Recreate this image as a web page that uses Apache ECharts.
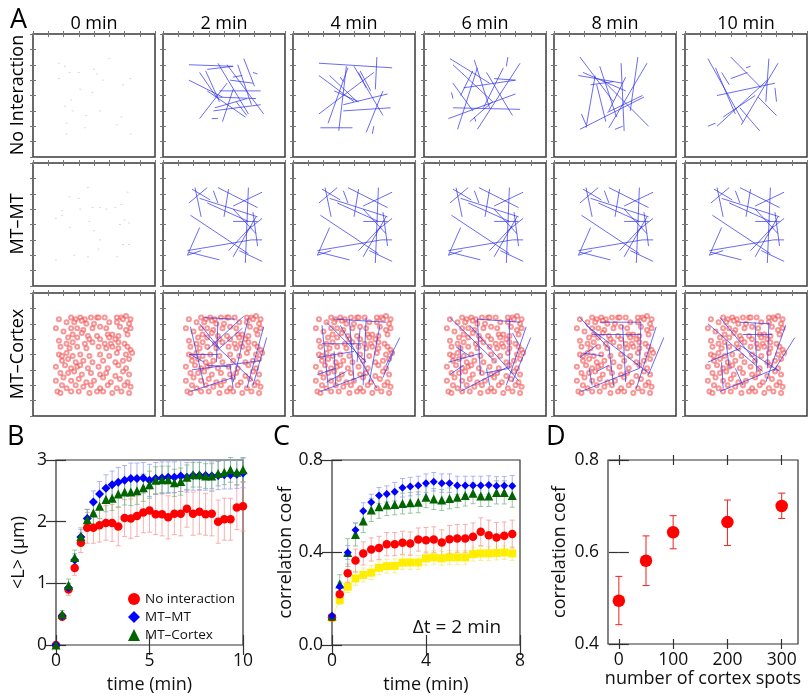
<!DOCTYPE html>
<html>
<head>
<meta charset="utf-8">
<script src="https://cdn.jsdelivr.net/npm/echarts@6/dist/echarts.min.js"></script>
<style>
  html, body { margin: 0; padding: 0; background: #fff; }
  #chart { width: 808px; height: 696px; }
</style>
</head>
<body>
<div id="chart"></div>
<script>
// ---- panel A: snapshots (units of the simulation box, 0..8, y downward) ----
const timeLabels = ['0 min', '2 min', '4 min', '6 min', '8 min', '10 min'];
const rowLabels = ['No Interaction', 'MT\u2013MT', 'MT\u2013Cortex'];

const seedsNone = [[1.7,1.9],[2.1,2.1],[5.0,1.6],[2.4,2.5],[3.0,2.5],[4.0,2.3],[4.2,2.6],[1.7,2.9],[3.1,3.6],[4.6,3.0],[5.9,3.3],[6.4,2.9],[3.9,3.8],[2.1,4.7],[2.6,5.0],[3.5,5.3],[4.4,5.0],[5.8,5.4],[5.5,5.9],[2.2,5.8],[3.4,6.1],[2.2,6.5],[6.4,6.5],[2.5,4.3]];
const seedsMT = [[3.6,1.6],[2.4,2.2],[3.0,2.3],[6.2,1.9],[1.9,3.1],[3.1,3.0],[3.9,2.9],[4.4,2.9],[4.8,3.0],[5.4,2.9],[5.8,2.7],[1.5,3.6],[1.9,3.4],[2.4,4.2],[3.7,3.8],[4.0,4.4],[5.7,4.0],[6.0,3.7],[6.3,3.9],[4.4,5.0],[5.9,5.3],[6.3,5.3],[4.3,5.6],[1.5,6.3],[2.7,6.0],[3.6,6.1],[5.5,6.1]];
const seedsCx = [[3.4,4.1],[4.2,4.1],[5.9,3.7],[6.2,5.8]];

const segNone2 = [[1.7,2.0,4.6,2.1],[5.3,1.6,6.0,3.4],[1.7,3.0,3.9,4.1],[2.4,2.5,3.5,4.1],[2.8,2.4,3.7,4.4],[2.4,5.5,4.2,3.2],[2.9,2.3,4.6,2.1],[3.3,5.0,6.4,4.6],[3.4,4.8,5.5,4.2],[4.2,2.0,6.6,5.2],[3.7,3.7,6.4,3.7],[3.5,4.1,6.1,4.2],[4.4,3.0,5.9,3.2],[3.6,1.9,5.6,5.2],[2.9,3.7,5.4,5.4],[3.9,5.7,4.6,3.6],[3.2,5.5,3.6,5.5],[5.9,2.5,6.2,2.6],[4.8,4.4,5.5,5.3],[4.6,2.8,5.2,2.7],[4.9,2.0,5.8,4.6]];
const segNone4 = [[1.7,1.9,6.5,2.2],[5.5,1.5,5.4,3.6],[1.7,2.7,4.0,4.4],[3.5,2.1,3.0,6.3],[2.3,5.8,3.6,2.2],[1.7,5.2,5.3,2.5],[3.3,4.6,6.2,3.9],[3.3,5.0,6.4,4.8],[1.8,6.1,3.9,6.1],[4.0,2.1,5.9,5.3],[4.3,2.5,4.8,3.5],[4.8,6.4,5.9,3.7],[2.4,2.7,4.2,4.4],[2.7,3.7,4.3,4.4],[5.2,6.5,5.3,6.0],[3.1,2.8,3.3,3.1],[4.4,2.4,5.1,3.7]];
const segNone6 = [[1.7,1.6,4.3,3.2],[1.9,2.0,4.5,4.4],[3.3,1.7,4.3,4.8],[6.3,1.9,3.5,6.2],[1.6,5.5,6.0,3.9],[1.9,4.8,6.3,4.9],[2.2,6.2,3.5,2.2],[2.6,3.5,6.0,3.0],[5.5,1.5,5.4,2.1],[2.4,4.0,3.2,2.4],[4.1,2.5,5.8,5.3],[3.0,5.7,4.5,4.4],[3.9,4.8,5.2,2.2],[4.6,2.9,6.0,3.0],[1.8,3.8,1.9,4.2],[3.3,5.4,3.4,5.7],[1.9,3.2,3.2,5.0]];
const segNone8 = [[1.7,1.5,3.9,4.4],[1.6,2.7,4.5,3.2],[3.0,2.1,4.1,5.4],[4.4,1.9,4.6,6.3],[5.5,1.5,5.0,5.0],[6.1,1.9,3.6,6.1],[1.7,6.2,5.9,4.1],[2.7,2.7,2.1,6.1],[3.2,3.0,6.2,6.0],[4.0,6.2,4.5,6.0],[1.9,2.5,4.7,3.7],[1.8,5.2,2.1,5.9],[2.8,3.3,3.4,5.7],[4.7,2.8,3.6,5.0],[3.5,5.1,5.8,4.0],[2.4,3.3,3.9,3.1]];
const segNone10 = [[1.5,1.6,3.8,5.7],[3.0,1.5,5.0,3.5],[5.5,1.6,5.3,4.4],[6.1,1.9,3.7,5.9],[2.1,6.0,5.4,3.0],[1.5,6.0,2.0,5.8],[2.0,2.2,3.3,5.2],[3.0,2.9,4.1,2.5],[2.1,4.0,5.9,3.2],[4.8,4.1,6.0,5.3],[2.5,5.4,4.6,4.0],[3.6,4.8,4.9,6.3],[6.0,4.4,5.9,3.5],[2.4,2.5,2.9,3.3],[4.0,2.2,4.3,2.1]];
const segMT = [[1.9,1.7,3.1,2.4],[2.4,2.3,6.2,3.5],[3.6,1.6,6.2,2.9],[2.1,1.6,2.5,3.5],[4.3,1.7,4.0,3.5],[5.6,1.6,5.4,6.5],[6.5,1.9,4.6,2.8],[1.8,3.4,5.6,5.9],[2.4,4.2,1.6,6.0],[1.6,5.7,5.8,5.0],[1.7,5.8,3.7,6.3],[4.6,6.1,6.1,3.5],[5.0,5.7,6.5,6.4],[5.5,4.4,6.5,3.6],[5.8,5.0,6.5,5.0],[4.6,3.8,6.2,3.8],[2.9,1.6,1.7,2.6],[4.3,5.7,5.8,4.1],[1.6,6.0,2.5,5.7],[4.6,3.0,6.1,4.6],[2.9,2.6,5.6,3.8],[3.3,1.8,3.6,2.6],[5.9,3.2,6.2,5.4]];
const segCx2 = [[1.8,2.2,2.7,6.0],[2.4,2.0,3.7,3.6],[2.7,1.6,4.7,1.7],[5.3,1.5,2.9,3.7],[5.6,1.6,4.6,5.8],[6.6,2.2,5.5,6.2],[6.8,2.9,5.9,6.0],[1.7,4.0,3.6,4.0],[1.9,5.0,6.4,4.4],[3.6,1.9,3.5,4.5],[1.8,6.4,4.6,5.5],[2.7,2.7,5.9,5.7],[3.7,3.6,5.2,2.3],[4.4,4.7,4.6,6.2],[2.9,4.7,4.4,4.8],[1.8,4.0,2.7,4.5]];
const segCx4 = [[1.9,2.1,2.3,6.0],[2.7,1.7,6.1,1.9],[2.2,1.9,4.8,4.5],[3.7,1.7,4.0,5.8],[4.8,1.6,4.6,6.0],[5.7,2.1,5.0,5.8],[7.0,2.9,6.1,4.7],[1.6,4.2,4.0,3.8],[1.9,3.3,4.5,3.3],[1.8,6.4,4.8,5.3],[3.1,2.1,5.5,6.2],[4.4,2.3,4.2,4.5],[2.2,5.8,3.5,5.1],[5.9,5.5,6.6,3.8],[1.6,5.3,2.8,4.9],[2.7,3.8,2.8,6.0]];
const segCx6 = [[1.7,1.6,4.7,4.5],[3.5,1.7,6.3,1.9],[3.5,1.7,3.7,5.3],[5.6,1.7,5.6,4.9],[6.7,2.2,5.4,6.0],[7.0,2.9,5.8,5.8],[1.6,4.5,3.8,3.9],[2.1,3.5,3.0,4.1],[1.7,5.3,2.6,4.7],[2.4,3.4,2.4,6.2],[2.4,6.4,5.5,4.8],[3.0,2.1,6.2,5.7],[4.1,4.9,4.3,6.0],[5.8,2.6,6.2,3.3],[4.0,5.2,5.6,4.9]];
const segCx8 = [[1.7,1.6,3.6,3.6],[3.0,1.9,5.7,1.9],[2.5,2.7,5.7,2.7],[5.7,1.9,5.6,4.9],[4.5,2.1,4.7,5.8],[6.7,2.2,5.4,6.2],[7.2,2.9,6.2,5.3],[1.7,4.2,2.8,3.4],[1.9,3.9,3.2,4.1],[2.3,4.9,2.5,6.0],[1.8,6.4,5.6,4.9],[2.1,2.1,6.2,5.2],[3.6,3.5,3.9,6.0],[2.8,5.1,3.6,4.7]];
const segCx10 = [[1.5,2.0,5.1,5.1],[2.3,1.6,4.7,4.5],[3.6,1.9,5.5,2.0],[3.8,2.7,5.7,2.7],[5.5,1.9,5.4,4.9],[4.6,1.9,4.7,5.1],[6.6,2.1,5.3,5.8],[7.2,2.9,5.8,5.1],[1.5,4.5,3.6,3.6],[2.4,4.5,2.5,6.2],[2.3,6.4,6.0,4.9],[3.6,3.4,6.2,5.1],[3.3,4.9,3.8,6.0],[2.7,3.2,2.9,4.9]];

const cortexSpots = [
  [1.7,1.7],[2.5,1.6],[2.8,1.7],[3.1,1.6],[3.4,1.7],[3.8,1.6],[4.2,1.6],[4.3,1.6],[4.7,1.6],[5.5,1.6],[5.8,1.6],[6.1,1.5],[6.4,1.7],[5.9,1.7],
  [2.2,1.9],[2.7,1.9],[3.2,1.8],[3.5,2.0],[4.0,2.0],[5.0,1.9],[5.5,1.9],[6.3,2.0],
  [1.5,2.3],[2.5,2.3],[2.9,2.3],[3.3,2.4],[3.9,2.3],[4.4,2.2],[4.8,2.3],[5.7,2.2],[6.1,2.4],[6.4,2.3],
  [2.0,2.5],[2.6,2.7],[3.2,2.6],[3.6,2.8],[4.2,2.8],[4.9,2.7],[5.2,2.7],[5.6,2.8],[6.2,2.7],[2.3,2.9],[2.9,2.9],[3.7,3.0],[4.4,3.0],[5.0,2.9],[5.4,3.0],
  [1.7,3.1],[2.2,3.3],[2.6,3.2],[3.4,3.3],[3.9,3.2],[4.7,3.3],[5.1,3.3],[5.6,3.2],[6.0,3.3],
  [1.8,3.5],[2.4,3.6],[2.9,3.5],[3.5,3.6],[4.3,3.5],[4.8,3.6],[5.2,3.5],[5.6,3.6],[6.2,3.5],[6.4,3.7],
  [1.7,4.0],[1.9,4.1],[2.2,3.9],[2.6,4.1],[3.1,4.0],[3.7,4.1],[4.4,4.0],[5.0,4.1],[5.5,3.9],[6.1,4.0],[6.5,3.9],
  [1.9,4.4],[2.3,4.3],[2.8,4.5],[3.3,4.4],[3.9,4.5],[4.6,4.4],[5.4,4.5],[5.9,4.4],[6.3,4.3],
  [1.5,4.8],[2.1,4.7],[2.5,4.9],[2.9,4.8],[3.1,4.7],[3.6,4.9],[4.3,4.8],[4.9,4.9],[5.6,4.7],[6.1,4.9],
  [1.8,5.2],[2.3,5.2],[2.7,5.1],[3.2,5.3],[3.8,5.2],[4.4,5.3],[4.8,5.2],[5.4,5.4],[5.9,5.1],[6.3,5.3],
  [1.5,5.7],[2.0,5.5],[2.5,5.7],[3.0,5.6],[3.5,5.8],[4.0,5.7],[4.6,5.5],[5.1,5.8],[5.7,5.6],[6.2,5.8],
  [1.9,6.0],[2.2,6.2],[2.8,6.0],[3.3,6.1],[3.8,6.0],[4.4,6.2],[4.9,6.0],[5.5,6.2],[6.0,6.0],[6.4,6.1],
  [1.6,6.4],[1.8,6.5],[2.5,6.4],[3.0,6.4],[3.7,6.5],[4.2,6.4],[4.6,6.4],[5.2,6.5],[5.8,6.4],[6.3,6.5]
];

// ---- panel B: mean length vs time ----
const timesB = [0,0.33,0.67,1,1.33,1.67,2,2.33,2.67,3,3.33,3.67,4,4.33,4.67,5,5.33,5.67,6,6.33,6.67,7,7.33,7.67,8,8.33,8.67,9,9.33,9.67,10];
const lenNone = [0,0.46,0.90,1.25,1.66,1.90,1.90,1.94,1.98,1.98,1.92,2.06,2.05,2.09,2.15,2.18,2.12,2.12,2.07,2.13,2.13,2.21,2.13,2.16,2.12,2.13,2.00,2.04,2.04,2.23,2.25];
const errNone = [0,0.05,0.10,0.12,0.16,0.25,0.25,0.27,0.28,0.30,0.31,0.30,0.32,0.33,0.33,0.35,0.33,0.35,0.35,0.34,0.36,0.30,0.35,0.36,0.34,0.36,0.35,0.34,0.34,0.36,0.40];
const lenMT = [0,0.47,0.93,1.38,1.75,2.05,2.32,2.45,2.54,2.60,2.64,2.67,2.70,2.70,2.71,2.67,2.70,2.71,2.72,2.72,2.74,2.72,2.75,2.75,2.75,2.74,2.75,2.76,2.76,2.77,2.79];
const errMT = [0,0.05,0.07,0.10,0.12,0.15,0.18,0.20,0.22,0.22,0.24,0.24,0.25,0.25,0.25,0.26,0.26,0.26,0.25,0.25,0.25,0.24,0.24,0.24,0.24,0.23,0.23,0.23,0.23,0.23,0.24];
const lenCx = [0,0.50,0.97,1.42,1.76,2.03,2.14,2.25,2.36,2.38,2.45,2.48,2.48,2.50,2.55,2.60,2.67,2.68,2.68,2.63,2.65,2.72,2.76,2.76,2.74,2.74,2.78,2.80,2.84,2.80,2.84];
const errCx = [0,0.06,0.10,0.12,0.14,0.17,0.18,0.20,0.20,0.20,0.21,0.21,0.22,0.22,0.22,0.22,0.22,0.22,0.22,0.22,0.22,0.20,0.20,0.20,0.20,0.20,0.20,0.20,0.20,0.20,0.20];

// ---- panel C: correlation coefficient vs time ----
const timesC = [0,0.33,0.67,1,1.33,1.67,2,2.33,2.67,3,3.33,3.67,4,4.33,4.67,5,5.33,5.67,6,6.33,6.67,7,7.33,7.67];
const corMT = [0.127,0.252,0.40,0.497,0.58,0.617,0.646,0.653,0.663,0.68,0.685,0.69,0.70,0.706,0.70,0.70,0.69,0.69,0.69,0.69,0.692,0.688,0.689,0.688];
const errCorMT = [0.01,0.02,0.03,0.03,0.035,0.035,0.035,0.035,0.04,0.04,0.04,0.04,0.04,0.04,0.04,0.04,0.04,0.04,0.04,0.04,0.04,0.04,0.04,0.045];
const corCx = [0.125,0.264,0.40,0.478,0.536,0.584,0.598,0.605,0.608,0.612,0.615,0.617,0.639,0.631,0.627,0.634,0.639,0.646,0.656,0.644,0.644,0.66,0.66,0.646];
const errCorCx = [0.01,0.04,0.06,0.05,0.05,0.05,0.05,0.045,0.045,0.045,0.045,0.045,0.045,0.045,0.045,0.045,0.045,0.045,0.045,0.045,0.045,0.05,0.05,0.05];
const corNone = [0.12,0.219,0.31,0.365,0.396,0.413,0.42,0.436,0.436,0.442,0.439,0.456,0.453,0.456,0.443,0.457,0.461,0.461,0.468,0.49,0.475,0.465,0.472,0.48];
const errCorNone = [0.01,0.03,0.04,0.05,0.05,0.05,0.05,0.05,0.05,0.05,0.05,0.05,0.055,0.055,0.055,0.06,0.06,0.06,0.06,0.06,0.065,0.065,0.06,0.06];
const corShuf = [0.118,0.195,0.252,0.288,0.303,0.313,0.334,0.341,0.342,0.356,0.357,0.357,0.375,0.379,0.375,0.379,0.379,0.379,0.393,0.396,0.396,0.398,0.40,0.396];
const errCorShuf = [0.01,0.02,0.025,0.03,0.03,0.03,0.03,0.03,0.03,0.03,0.03,0.03,0.03,0.03,0.03,0.03,0.03,0.03,0.03,0.03,0.03,0.03,0.03,0.03];

// ---- panel D: correlation vs number of cortex spots ----
const spotCounts = [0, 50, 100, 200, 300];
const corSpots = [0.494, 0.581, 0.643, 0.665, 0.700];
const corSpotsLow = [0.442, 0.527, 0.607, 0.614, 0.673];
const corSpotsHigh = [0.547, 0.635, 0.679, 0.713, 0.728];

const FONT = "'Open Sans', 'DejaVu Sans', sans-serif";
const INK = '#333';

const grids = [], xAxes = [], yAxes = [], series = [], graphics = [];

function addPanel(left, top) {
  const g = grids.length;
  grids.push({ left, top, width: 122, height: 123, show: true, borderColor: '#3a3a3a', borderWidth: 1.5, backgroundColor: 'transparent' });
  const base = {
    gridIndex: g, type: 'value', min: 0, max: 8, interval: 1,
    axisLine: { show: false }, splitLine: { show: false }, axisLabel: { show: false },
    axisTick: { show: true, inside: true, length: 3, lineStyle: { color: '#777', width: 1 } }
  };
  const xi = xAxes.length, yi = yAxes.length;
  xAxes.push({ ...base, position: 'bottom' }, { ...base, position: 'top' });
  yAxes.push({ ...base, position: 'left', inverse: true }, { ...base, position: 'right', inverse: true });
  return { xi, yi };
}

function segSeries(ax, segs) {
  return {
    type: 'custom', coordinateSystem: 'cartesian2d', xAxisIndex: ax.xi, yAxisIndex: ax.yi, silent: true, z: 3,
    data: segs, encode: { x: [0, 2], y: [1, 3] },
    renderItem: (params, api) => {
      const a = api.coord([api.value(0), api.value(1)]);
      const b = api.coord([api.value(2), api.value(3)]);
      return { type: 'line', shape: { x1: a[0], y1: a[1], x2: b[0], y2: b[1] }, style: { stroke: 'rgba(50,50,235,0.72)', lineWidth: 1 } };
    }
  };
}

function dotSeries(ax, pts) {
  return { type: 'scatter', xAxisIndex: ax.xi, yAxisIndex: ax.yi, data: pts, symbol: 'rect', symbolSize: [2, 1], silent: true, itemStyle: { color: 'rgba(170,170,225,0.6)' } };
}

function spotSeries(ax) {
  return { type: 'scatter', xAxisIndex: ax.xi, yAxisIndex: ax.yi, data: cortexSpots, symbol: 'emptyCircle', symbolSize: 4, silent: true, z: 2,
    itemStyle: { color: 'rgba(240,70,70,0.7)', borderWidth: 0.9 } };
}

const colLeft = [33, 163, 293, 424, 554, 685];
const rowTop = [34, 163, 293];
const rowSegs = [
  [null, segNone2, segNone4, segNone6, segNone8, segNone10],
  [null, segMT, segMT, segMT, segMT, segMT],
  [null, segCx2, segCx4, segCx6, segCx8, segCx10]
];
const rowSeeds = [seedsNone, seedsMT, seedsCx];

rowTop.forEach((top, r) => {
  colLeft.forEach((left, c) => {
    const ax = addPanel(left, top);
    if (r === 2) series.push(spotSeries(ax));
    if (c === 0) series.push(dotSeries(ax, rowSeeds[r]));
    else series.push(segSeries(ax, rowSegs[r][c]));
  });
});

// each side gets one axis pushed 5px outward with 10px inside ticks, so ticks cross the frame
function addPlot(rect, xs, ys) {
  const g = grids.length;
  grids.push({ ...rect, show: true, borderColor: INK, borderWidth: 1.2, backgroundColor: 'transparent' });
  const xi = xAxes.length, yi = yAxes.length;
  const tick = { show: true, inside: true, length: 10, lineStyle: { color: INK, width: 1.2 } };
  const labelStyle = { fontSize: 17.5, color: '#111', fontFamily: FONT };
  const nameStyle = { fontSize: 18, color: '#111', fontFamily: FONT };
  ['bottom', 'top'].forEach((pos, k) => {
    const main = k === 0;
    xAxes.push({
      gridIndex: g, type: 'value', position: pos, offset: 5, min: xs.min, max: xs.max, interval: xs.interval,
      axisLine: { show: false }, splitLine: { show: false },
      axisTick: { ...tick, customValues: xs.ticks },
      axisLabel: main ? { show: true, margin: 2, customValues: xs.ticks, formatter: xs.fmt, ...labelStyle } : { show: false },
      name: main ? xs.name : '', nameLocation: 'middle', nameGap: xs.nameGap, nameTextStyle: nameStyle
    });
  });
  ['left', 'right'].forEach((pos, k) => {
    const main = k === 0;
    yAxes.push({
      gridIndex: g, type: 'value', position: pos, offset: 5, min: ys.min, max: ys.max, interval: ys.interval,
      axisLine: { show: false }, splitLine: { show: false },
      axisTick: tick,
      axisLabel: main ? { show: true, margin: 4, formatter: ys.fmt, ...labelStyle } : { show: false },
      name: main ? ys.name : '', nameLocation: 'middle', nameGap: ys.nameGap, nameTextStyle: nameStyle
    });
  });
  return { xi, yi };
}

function errSeries(ax, xsArr, low, high, color, capW) {
  return {
    type: 'custom', coordinateSystem: 'cartesian2d', xAxisIndex: ax.xi, yAxisIndex: ax.yi, silent: true, z: 2,
    data: xsArr.map((x, i) => [x, low[i], high[i]]), encode: { x: 0, y: [1, 2] },
    renderItem: (params, api) => {
      const top = api.coord([api.value(0), api.value(2)]);
      const bot = api.coord([api.value(0), api.value(1)]);
      const style = { stroke: color, lineWidth: 1 };
      return { type: 'group', children: [
        { type: 'line', shape: { x1: top[0], y1: top[1], x2: bot[0], y2: bot[1] }, style },
        { type: 'line', shape: { x1: top[0] - capW, y1: top[1], x2: top[0] + capW, y2: top[1] }, style },
        { type: 'line', shape: { x1: bot[0] - capW, y1: bot[1], x2: bot[0] + capW, y2: bot[1] }, style }
      ] };
    }
  };
}

function markSeries(ax, name, xsArr, ys, symbol, size, color, z) {
  return { type: 'scatter', name, xAxisIndex: ax.xi, yAxisIndex: ax.yi, data: xsArr.map((x, i) => [x, ys[i]]),
    symbol, symbolSize: size, itemStyle: { color, opacity: 1 }, z: z || 4, silent: true };
}

const lowOf = (v, e) => v.map((y, i) => y - e[i]);
const highOf = (v, e) => v.map((y, i) => y + e[i]);

// B
const axB = addPlot({ left: 56, top: 460, width: 187, height: 185 },
  { min: 0, max: 10, interval: 5, name: 'time (min)', nameGap: 26 },
  { min: 0, max: 3, interval: 1, name: '<L> (\u03bcm)', nameGap: 23 });
series.push(
  errSeries(axB, timesB, lowOf(lenNone, errNone), highOf(lenNone, errNone), 'rgba(245,150,150,0.75)', 2.5),
  errSeries(axB, timesB, lowOf(lenMT, errMT), highOf(lenMT, errMT), 'rgba(150,155,245,0.75)', 2.5),
  errSeries(axB, timesB, lowOf(lenCx, errCx), highOf(lenCx, errCx), 'rgba(120,180,130,0.75)', 2.5),
  markSeries(axB, 'No interaction', timesB, lenNone, 'circle', 8.5, '#ff0000', 4),
  markSeries(axB, 'MT\u2013MT', timesB, lenMT, 'diamond', 9, '#0000ff', 5),
  markSeries(axB, 'MT\u2013Cortex', timesB, lenCx, 'triangle', 9, '#006400', 6)
);

// C
const axC = addPlot({ left: 332, top: 460, width: 188, height: 185 },
  { min: 0, max: 8, interval: 4, name: 'time (min)', nameGap: 26 },
  { min: 0, max: 0.8, interval: 0.4, name: 'correlation coef', nameGap: 28, fmt: v => v.toFixed(1) });
series.push(
  errSeries(axC, timesC, lowOf(corShuf, errCorShuf), highOf(corShuf, errCorShuf), 'rgba(240,235,120,0.8)', 2.5),
  errSeries(axC, timesC, lowOf(corNone, errCorNone), highOf(corNone, errCorNone), 'rgba(245,150,150,0.75)', 2.5),
  errSeries(axC, timesC, lowOf(corCx, errCorCx), highOf(corCx, errCorCx), 'rgba(120,180,130,0.75)', 2.5),
  errSeries(axC, timesC, lowOf(corMT, errCorMT), highOf(corMT, errCorMT), 'rgba(150,155,245,0.75)', 2.5),
  { type: 'line', name: 'shuffled', xAxisIndex: axC.xi, yAxisIndex: axC.yi, data: timesC.map((x, i) => [x, corShuf[i]]),
    symbol: 'rect', symbolSize: 8, showSymbol: true, lineStyle: { color: 'rgba(250,235,0,0.5)', width: 1 },
    itemStyle: { color: '#ffee00' }, z: 4, silent: true },
  markSeries(axC, 'corr none', timesC, corNone, 'circle', 8.5, '#ff0000', 4),
  markSeries(axC, 'corr cortex', timesC, corCx, 'triangle', 9, '#006400', 5),
  markSeries(axC, 'corr mt', timesC, corMT, 'diamond', 8, '#0000ff', 6)
);

// D
const axD = addPlot({ left: 608, top: 460, width: 190, height: 184 },
  { min: -20, max: 330, ticks: [0, 100, 200, 300], name: 'number of cortex spots', nameGap: 21 },
  { min: 0.4, max: 0.8, interval: 0.2, name: 'correlation coef', nameGap: 34, fmt: v => v.toFixed(1) });
series.push(
  errSeries(axD, spotCounts, corSpotsLow, corSpotsHigh, '#ee2020', 3.5),
  markSeries(axD, 'spots', spotCounts, corSpots, 'circle', 12.5, '#ff0000', 4)
);

// text
graphics.push({ type: 'text', left: 10, top: 7, style: { text: 'A', font: '27px ' + FONT, fill: '#000' } });
[['B', 7], ['C', 273], ['D', 546]].forEach(([t, x]) => {
  graphics.push({ type: 'text', left: x, top: 424, style: { text: t, font: '27px ' + FONT, fill: '#000' } });
});
timeLabels.forEach((t, c) => {
  graphics.push({ type: 'text', x: colLeft[c] + 61, y: 24, style: { text: t, font: '18px ' + FONT, fill: '#000', textAlign: 'center', textVerticalAlign: 'middle' } });
});
rowLabels.forEach((t, r) => {
  graphics.push({ type: 'text', x: 18, y: rowTop[r] + 61, rotation: Math.PI / 2, style: { text: t, font: '18px ' + FONT, fill: '#000', textAlign: 'center', textVerticalAlign: 'middle' } });
});
graphics.push({ type: 'text', x: 457, y: 628, style: { text: '\u0394t = 2 min', font: '19px ' + FONT, fill: '#111', textAlign: 'center', textVerticalAlign: 'middle' } });

const chart = echarts.init(document.getElementById('chart'), null, { renderer: 'canvas' });
chart.setOption({
  animation: false,
  backgroundColor: '#fff',
  grid: grids,
  xAxis: xAxes,
  yAxis: yAxes,
  legend: {
    orient: 'vertical', left: 123, top: 587, itemWidth: 12, itemHeight: 12, itemGap: 4,
    textStyle: { fontSize: 13.5, fontFamily: FONT, color: '#111' }, selectedMode: false,
    data: [{ name: 'No interaction', icon: 'circle' }, { name: 'MT\u2013MT', icon: 'diamond' }, { name: 'MT\u2013Cortex', icon: 'triangle' }]
  },
  graphic: graphics,
  series
});
</script>
</body>
</html>
